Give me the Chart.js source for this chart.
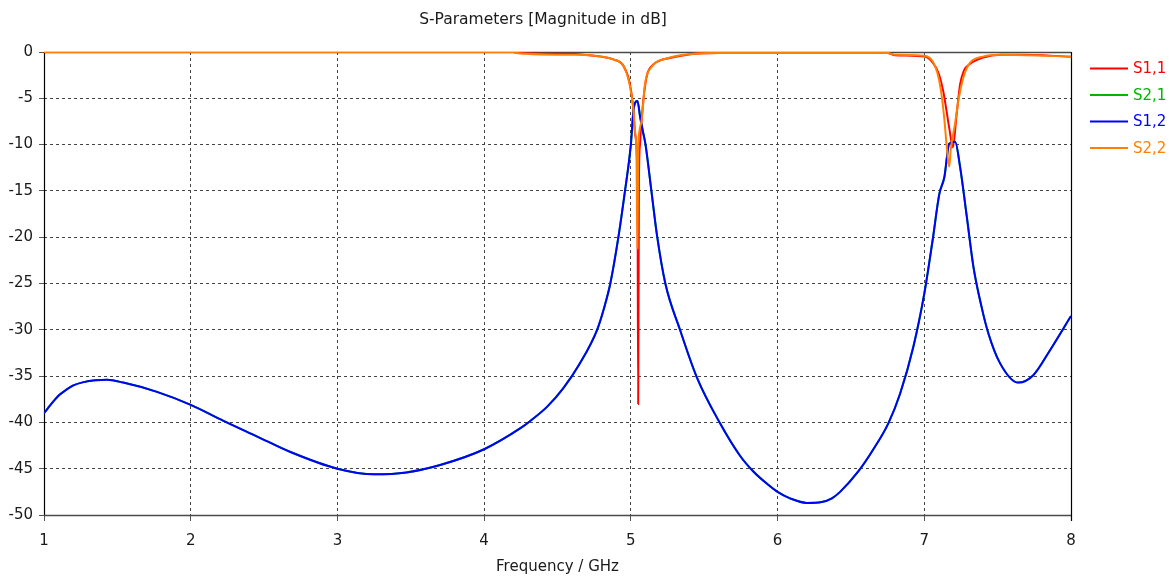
<!DOCTYPE html>
<html><head><meta charset="utf-8">
<script src="https://cdn.jsdelivr.net/npm/chart.js@4/dist/chart.umd.min.js"></script>
<style>html,body{margin:0;padding:0;background:#fff}#wrap{width:1169px;height:576px;position:relative}</style>
</head><body><div id="wrap"><canvas id="c" width="1169" height="576"></canvas></div>
<script>
const chartTitle = 'S-Parameters [Magnitude in dB]';
const xAxisTitle = 'Frequency / GHz';
const seriesNames = ['S1,1', 'S2,1', 'S1,2', 'S2,2'];
const seriesColors = ['#ff0000', '#00b400', '#0000ff', '#ff8000'];
const xTickValues = [1, 2, 3, 4, 5, 6, 7, 8];
const yTickValues = [0, -5, -10, -15, -20, -25, -30, -35, -40, -45, -50];

// S1,1 (reflection, port 1)
const freqS11 = [1.0, 4.2, 4.22, 4.6, 4.65, 4.8, 4.88, 4.95, 4.99, 5.016, 5.03, 5.045, 5.05, 5.055, 5.062, 5.075, 5.09, 5.11, 5.15, 5.2, 5.25, 5.43, 5.6, 6.75, 6.8, 7.0, 7.06, 7.1, 7.13, 7.15, 7.17, 7.195, 7.22, 7.244, 7.27, 7.31, 7.4, 7.52, 7.65, 8.0];
const magS11  = [0, 0, -0.1, -0.2, -0.25, -0.5, -0.8, -1.5, -3.2, -6.0, -9.0, -14.0, -38.0, -14.0, -10.0, -7.0, -4.5, -2.5, -1.4, -0.9, -0.7, -0.2, -0.1, -0.1, -0.35, -0.5, -1.2, -2.4, -4.3, -6.2, -8.2, -10.3, -6.8, -3.5, -2.0, -1.3, -0.6, -0.3, -0.3, -0.5];

// S2,1 (transmission)
const freqS21 = [1.0, 1.05, 1.1, 1.15, 1.2, 1.27, 1.35, 1.43, 1.54, 1.77, 2.0, 2.22, 2.45, 2.68, 3.0, 3.25, 3.47, 3.7, 4.0, 4.25, 4.31, 4.43, 4.54, 4.65, 4.77, 4.82, 4.86, 4.915, 4.96, 5.0, 5.02, 5.045, 5.063, 5.085, 5.1, 5.14, 5.18, 5.235, 5.335, 5.449, 5.608, 5.744, 5.835, 5.926, 6.0, 6.085, 6.2, 6.3, 6.37, 6.426, 6.55, 6.653, 6.755, 6.835, 6.926, 7.0, 7.057, 7.103, 7.137, 7.17, 7.21, 7.244, 7.29, 7.335, 7.39, 7.437, 7.516, 7.64, 7.743, 7.857, 8.0];
const magS21  = [-39.0, -38.0, -37.1, -36.5, -36.0, -35.65, -35.45, -35.4, -35.7, -36.7, -38.1, -39.8, -41.5, -43.2, -45.0, -45.6, -45.4, -44.6, -42.9, -40.6, -39.9, -38.3, -36.3, -33.7, -30.0, -27.5, -25.0, -20.0, -15.0, -10.0, -6.0, -5.3, -7.0, -8.8, -10.0, -15.0, -20.0, -25.0, -30.0, -35.1, -40.1, -43.6, -45.3, -46.6, -47.5, -48.2, -48.7, -48.6, -48.2, -47.5, -45.3, -42.9, -40.1, -36.9, -31.8, -26.1, -20.3, -15.3, -13.5, -9.9, -9.7, -12.4, -17.8, -23.2, -27.5, -30.4, -33.6, -35.7, -34.9, -32.2, -28.5];

// S1,2 (transmission, reciprocal)
const freqS12 = [1.0, 1.05, 1.1, 1.15, 1.2, 1.27, 1.35, 1.43, 1.54, 1.77, 2.0, 2.22, 2.45, 2.68, 3.0, 3.25, 3.47, 3.7, 4.0, 4.25, 4.31, 4.43, 4.54, 4.65, 4.77, 4.82, 4.86, 4.915, 4.96, 5.0, 5.02, 5.045, 5.063, 5.085, 5.1, 5.14, 5.18, 5.235, 5.335, 5.449, 5.608, 5.744, 5.835, 5.926, 6.0, 6.085, 6.2, 6.3, 6.37, 6.426, 6.55, 6.653, 6.755, 6.835, 6.926, 7.0, 7.057, 7.103, 7.137, 7.17, 7.21, 7.244, 7.29, 7.335, 7.39, 7.437, 7.516, 7.64, 7.743, 7.857, 8.0];
const magS12  = [-39.0, -38.0, -37.1, -36.5, -36.0, -35.65, -35.45, -35.4, -35.7, -36.7, -38.1, -39.8, -41.5, -43.2, -45.0, -45.6, -45.4, -44.6, -42.9, -40.6, -39.9, -38.3, -36.3, -33.7, -30.0, -27.5, -25.0, -20.0, -15.0, -10.0, -6.0, -5.3, -7.0, -8.8, -10.0, -15.0, -20.0, -25.0, -30.0, -35.1, -40.1, -43.6, -45.3, -46.6, -47.5, -48.2, -48.7, -48.6, -48.2, -47.5, -45.3, -42.9, -40.1, -36.9, -31.8, -26.1, -20.3, -15.3, -13.5, -9.9, -9.7, -12.4, -17.8, -23.2, -27.5, -30.4, -33.6, -35.7, -34.9, -32.2, -28.5];

// S2,2 (reflection, port 2)
const freqS22 = [1.0, 4.2, 4.22, 4.6, 4.65, 4.8, 4.88, 4.95, 4.99, 5.016, 5.028, 5.038, 5.045, 5.05, 5.058, 5.074, 5.097, 5.142, 5.244, 5.426, 5.6, 6.75, 6.8, 7.0, 7.057, 7.09, 7.113, 7.137, 7.153, 7.17, 7.18, 7.21, 7.233, 7.267, 7.31, 7.4, 7.52, 8.0];
const magS22  = [0, 0, -0.1, -0.3, -0.3, -0.5, -0.8, -1.5, -3.4, -6.0, -8.5, -10.9, -21.2, -11.0, -8.6, -7.3, -3.4, -1.6, -0.7, -0.2, -0.1, -0.1, -0.3, -0.4, -1.0, -2.3, -4.1, -7.3, -10.2, -12.4, -10.6, -7.7, -5.2, -2.7, -1.2, -0.5, -0.3, -0.5];

const FONT = '"DejaVu Sans", Verdana, sans-serif';
const TEXT = '#1a1a1a';
const PLOT = {left: 44, right: 1071, top: 52, bottom: 515};

function pts(fx, my) { return fx.map((f, i) => ({x: f, y: my[i]})); }

const seriesData = [pts(freqS11, magS11), pts(freqS21, magS21), pts(freqS12, magS12), pts(freqS22, magS22)];
const drawOrder = [3, 2, 1, 0]; // higher order is drawn underneath
const datasets = seriesNames.map((name, i) => ({
  label: name,
  data: seriesData[i],
  borderColor: seriesColors[i],
  backgroundColor: seriesColors[i],
  borderWidth: 2,
  pointRadius: 0,
  fill: false,
  cubicInterpolationMode: 'monotone',
  order: drawOrder[i]
}));

const framePlugin = {
  id: 'frame',
  beforeDatasetsDraw(chart) {
    const a = chart.chartArea, c = chart.ctx;
    c.save();
    c.lineWidth = 1.5;
    c.strokeStyle = '#4a4a4a';
    c.beginPath(); c.moveTo(a.left, a.top + 0.5); c.lineTo(a.right, a.top + 0.5); c.stroke();
    c.beginPath(); c.moveTo(a.left, a.bottom + 0.5); c.lineTo(a.right, a.bottom + 0.5); c.stroke();
    c.strokeStyle = '#000';
    c.lineWidth = 1.2;
    c.beginPath(); c.moveTo(a.left + 0.5, a.top); c.lineTo(a.left + 0.5, a.bottom); c.stroke();
    c.beginPath(); c.moveTo(a.right + 0.5, a.top); c.lineTo(a.right + 0.5, a.bottom + 6); c.stroke();
    c.restore();
  },
  afterDraw(chart) {
    const c = chart.ctx;
    c.save();
    c.font = '15.5px ' + FONT;
    c.fillStyle = TEXT;
    c.textAlign = 'center';
    c.textBaseline = 'middle';
    c.fillText(chartTitle, 543, 20);
    // legend
    const ys = [68.5, 95, 121.5, 148];
    c.font = '15px ' + FONT;
    c.textAlign = 'left';
    seriesNames.forEach((n, i) => {
      c.strokeStyle = seriesColors[i];
      c.lineWidth = 2;
      c.beginPath(); c.moveTo(1090, ys[i]); c.lineTo(1128, ys[i]); c.stroke();
      c.fillStyle = seriesColors[i];
      c.fillText(n, 1133, ys[i] + 1);
    });
    c.restore();
  }
};

new Chart(document.getElementById('c'), {
  type: 'line',
  data: {datasets},
  plugins: [framePlugin],
  options: {
    responsive: false,
    animation: false,
    devicePixelRatio: 1,
    layout: {padding: {top: PLOT.top, right: 1169 - PLOT.right, left: 0, bottom: 0}},
    plugins: {legend: {display: false}, tooltip: {enabled: false}, title: {display: false}},
    scales: {
      x: {
        type: 'linear', min: 1, max: 8,
        afterBuildTicks: s => { s.ticks = xTickValues.map(v => ({value: v})); },
        afterFit: s => { s.height = 576 - PLOT.bottom; },
        ticks: {font: {family: FONT, size: 15}, color: TEXT, padding: 11, maxRotation: 0},
        grid: {
          color: ctx => (ctx.tick && (ctx.tick.value === 1 || ctx.tick.value === 8)) ? 'rgba(0,0,0,0)' : '#444',
          tickLength: 6, tickColor: '#555', tickBorderDash: [], lineWidth: 1
        },
        border: {display: false, dash: [3, 3]},
        title: {display: true, text: xAxisTitle, font: {family: FONT, size: 15}, color: TEXT, padding: {top: 0, bottom: 0}}
      },
      y: {
        type: 'linear', min: -50, max: 0,
        afterBuildTicks: s => { s.ticks = yTickValues.map(v => ({value: v})); },
        afterFit: s => { s.width = PLOT.left; },
        ticks: {font: {family: FONT, size: 15}, color: TEXT, padding: 6},
        grid: {
          color: ctx => (ctx.tick && (ctx.tick.value === 0 || ctx.tick.value === -50)) ? 'rgba(0,0,0,0)' : '#444',
          tickLength: 5, tickColor: '#555', tickBorderDash: [], lineWidth: 1
        },
        border: {display: false, dash: [3, 3]}
      }
    }
  }
});
</script>
</body></html>
